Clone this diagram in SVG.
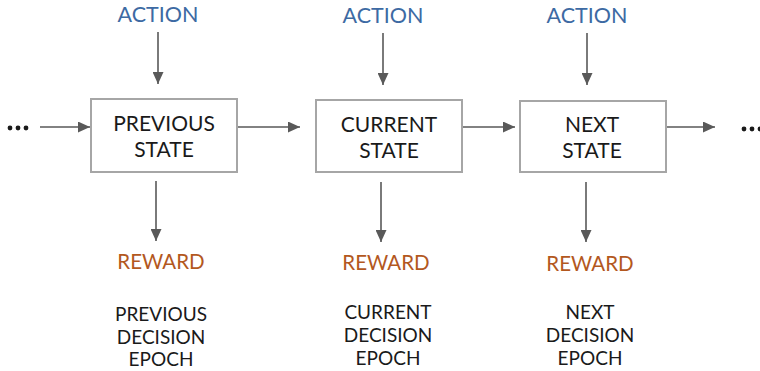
<svg xmlns="http://www.w3.org/2000/svg" width="760" height="371" viewBox="0 0 760 371">
  <defs>
    <marker id="arrow" viewBox="0 0 12 11" refX="12" refY="5.5" markerWidth="12" markerHeight="11" markerUnits="userSpaceOnUse" orient="auto">
      <path d="M0,0 L12,5.5 L0,11 Z" fill="#595959"/>
    </marker>
    <style>
      .box { fill: #ffffff; stroke: #a6a6a6; stroke-width: 2; }
      .lbl { font-family: Lato, "Open Sans", "Liberation Sans", sans-serif; font-size: 21px; fill: #1a1a1a; text-anchor: middle; }
      .act { font-family: Lato, "Open Sans", "Liberation Sans", sans-serif; font-size: 21.5px; fill: #3d6aa3; text-anchor: middle; }
      .rew { font-family: Lato, "Open Sans", "Liberation Sans", sans-serif; font-size: 20.5px; fill: #b3581e; text-anchor: middle; }
      .epo { font-family: Lato, "Open Sans", "Liberation Sans", sans-serif; font-size: 19px; fill: #1a1a1a; text-anchor: middle; }
      .dots { fill: #1a1a1a; }
      .edge { stroke: #595959; stroke-width: 1.6; fill: none; marker-end: url(#arrow); }
    </style>
  </defs>

  <!-- state chain -->
  <g id="connectors">
    <line class="edge" x1="40" y1="127" x2="90" y2="127"/>
    <line class="edge" x1="238" y1="127" x2="300" y2="127"/>
    <line class="edge" x1="463" y1="127" x2="515" y2="127"/>
    <line class="edge" x1="667" y1="127" x2="715" y2="127"/>
    <!-- actions in -->
    <line class="edge" x1="158" y1="32" x2="158" y2="84"/>
    <line class="edge" x1="383" y1="33" x2="383" y2="85"/>
    <line class="edge" x1="587" y1="33" x2="587" y2="85"/>
    <!-- rewards out -->
    <line class="edge" x1="156" y1="181" x2="156" y2="241"/>
    <line class="edge" x1="381" y1="182" x2="381" y2="242"/>
    <line class="edge" x1="586" y1="182" x2="586" y2="242"/>
  </g>

  <g id="ellipsis-left">
    <circle class="dots" cx="10" cy="128" r="2.4"/>
    <circle class="dots" cx="18" cy="128" r="2.4"/>
    <circle class="dots" cx="26" cy="128" r="2.4"/>
  </g>
  <g id="ellipsis-right">
    <circle class="dots" cx="744" cy="129" r="2.4"/>
    <circle class="dots" cx="752" cy="129" r="2.4"/>
    <circle class="dots" cx="760" cy="129" r="2.4"/>
  </g>

  <g id="previous">
    <rect class="box" x="91" y="99" width="146" height="73"/>
    <text class="lbl" x="164" y="131">PREVIOUS</text>
    <text class="lbl" x="164" y="157">STATE</text>
    <text class="act" x="158" y="22">ACTION</text>
    <text class="rew" x="161" y="269">REWARD</text>
    <text class="epo" x="161" y="321">PREVIOUS</text>
    <text class="epo" x="161" y="344">DECISION</text>
    <text class="epo" x="161" y="366">EPOCH</text>
  </g>

  <g id="current">
    <rect class="box" x="316" y="100" width="146" height="72"/>
    <text class="lbl" x="389" y="132">CURRENT</text>
    <text class="lbl" x="389" y="158">STATE</text>
    <text class="act" x="383" y="23">ACTION</text>
    <text class="rew" x="386" y="270">REWARD</text>
    <text class="epo" x="388" y="319">CURRENT</text>
    <text class="epo" x="388" y="342">DECISION</text>
    <text class="epo" x="388" y="365">EPOCH</text>
  </g>

  <g id="next">
    <rect class="box" x="520" y="101" width="146" height="71"/>
    <text class="lbl" x="592" y="132">NEXT</text>
    <text class="lbl" x="592" y="158">STATE</text>
    <text class="act" x="587" y="23">ACTION</text>
    <text class="rew" x="590" y="271">REWARD</text>
    <text class="epo" x="590" y="319">NEXT</text>
    <text class="epo" x="590" y="342">DECISION</text>
    <text class="epo" x="590" y="365">EPOCH</text>
  </g>
</svg>
